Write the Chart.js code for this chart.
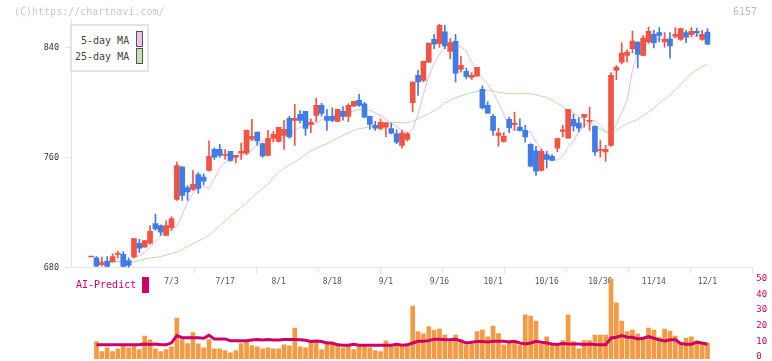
<!DOCTYPE html>
<html><head><meta charset="utf-8">
<script src="https://cdn.jsdelivr.net/npm/chart.js@4.4.1/dist/chart.umd.min.js"></script>
<style>
html,body{margin:0;padding:0;background:#fff;}
#wrap{position:relative;width:772px;height:361px;overflow:hidden;background:#fff;}
canvas{position:absolute;left:0;}
#c1{top:0;}
#c2{top:270px;}
.t{position:absolute;font-family:"DejaVu Sans Mono",monospace;white-space:nowrap;line-height:12px;}
</style></head><body>
<div id="wrap">
<canvas id="c1" width="772" height="300" style="width:772px;height:300px"></canvas>
<canvas id="c2" width="772" height="91" style="width:772px;height:91px"></canvas>
<div class="t" style="left:14px;top:6px;font-size:10px;color:#c8c8c8">(C)https://chartnavi.com/</div>
<div class="t" style="left:733px;top:6px;font-size:10px;color:#bbbbbb">6157</div>
<div style="position:absolute;left:70px;top:24px;width:75px;height:44px;border:2px solid #e4e4e4;background:#fff"></div>
<div class="t" style="left:81px;top:35px;font-size:10px;color:#444">5-day MA</div>
<div class="t" style="left:75px;top:51px;font-size:10px;color:#444">25-day MA</div>
<div style="position:absolute;left:136px;top:31px;width:5px;height:14px;border:1px solid #555;background:#f0c0ee"></div>
<div style="position:absolute;left:136px;top:48px;width:5px;height:14px;border:1px solid #555;background:#c4e4b4"></div>
<div class="t" style="left:76px;top:279px;font-size:10px;color:#cc0066">AI-Predict</div>
<div style="position:absolute;left:142px;top:277px;width:7px;height:16px;background:#cc0066"></div>
</div>
<script>
// ---- data (index 0..115, one entry per trading day) ----
const dateTickIdx  = [15, 25, 35, 45, 55, 65, 75, 85, 95, 105, 115];
const dateTickText = ["7/3","7/17","8/1","8/18","9/1","9/16","10/1","10/16","10/30","11/14","12/1"];
const priceTicks = [680, 760, 840];
const volTicks = [0, 10, 20, 30, 40, 50];

const opens = [687.6,687,682,684.6,684,689.5,689.5,685,687.6,697.5,
694.8,697.7,712,710.5,703.3,709,729.5,753,738,736.7,
747.6,745.7,750.5,765.8,765.8,761.5,764.4,760.2,763.1,763.1,
773.3,778.4,770,761.5,773.8,771.6,776,788.4,786.9,791.3,
793.5,784,790.5,797.8,789.8,789.8,786.2,793.5,789.8,797.3,
801.5,799,789.8,783.3,781,782,781,777.2,768.7,773.1,
799.8,819.6,816,829.3,845.8,842.7,851.2,837,844.4,824,
822.5,818.2,819,809.5,797.8,789.8,776,771.6,787.6,783.8,
782,779.6,769.5,764.7,750.5,762,760.7,766.8,778.9,774,
787.6,785,789.3,786.2,782.5,765.1,763.9,768.7,823.3,829.3,
834.2,839,843.9,834.2,843.9,849.5,850.7,843.9,845.8,848,
845.8,850.7,849.2,851.6,845.8,851.1];
const highs = [688.2,688,687.5,688,690,692,691.6,687,701,700.4,
699.6,710.5,718.8,711,714,717,756.6,753.5,739.6,750.5,
749,748,772,767,769.5,765.6,764.4,761.5,770.4,780,
787.6,778.4,770.5,779.6,779,782,787,789.8,798.5,794,
793.5,788,803,799.3,795,796,795,797,799,801,
805.8,800,790,786.2,788,785.2,785,780,779.6,778,
815,823.3,830,843,849.5,856.7,856,846.3,849.5,833.5,
825,821.6,825.5,812,800.5,791.3,781.3,778,789.3,793,
788,783.3,770,768,766,764.4,762,774,783.3,795,
791.3,789,791.3,796.6,783,772.4,768.7,821.6,827,843.4,
838.3,851.8,844,848.5,854.8,852.4,854.3,850.7,850.7,854.3,
854,852.4,854.3,853.8,852.4,853.6];
const lows = [687.6,680.7,681,680.5,684,687,680.5,678.5,687,691,
694.8,697,707,703.3,703,707,728.7,728.7,728.7,736,
734,740,750,758.5,760,758.5,757,756,758.5,762,
772,768.7,760,761,771,771,765.8,774,768.7,785,
776,778,786,790,779.6,786,786,787,786,797,
797,789,780.4,779.6,780,775,777,770,766.8,772,
793,805,815,829,839,840,839,831.8,814.8,822,
817,816.7,819,795,792,776,768.2,771,778,780,
779,771,753,747,750,752.2,757.5,764,774.8,774,
779,778.6,782,779.6,761.5,760.2,757.1,768,816.5,828,
829.3,835.9,825,834,843,839.5,843.9,840.2,832.2,847,
845,843.4,848,848,845,842];
const closes = [688.2,681,683.6,680.7,688,690.5,680.8,681.5,701,694,
699.6,706.2,708,705.7,710.5,715.6,754,732.4,735,740.4,
737.5,742.8,760.7,760.2,761.5,762.2,757.8,761.5,764.4,779.6,
775.3,771.9,761,773.8,776.7,781.8,780.4,774.8,788.4,786.9,
781.1,785.5,797.8,792,786.9,786.9,794.9,789.8,797.8,800.7,
797.8,789.3,784,781.3,785.5,785.2,777.7,771,777.7,777.2,
814.8,814.8,829.8,843,842.2,856,841,843.4,821.3,826.9,
818.9,819.6,825.5,795.9,792.2,779.6,777.7,775.3,781.6,785,
779.6,774.8,753.7,750,764.4,758.5,757.8,773.6,780.1,794.9,
782.8,781.3,791.3,786.9,763.9,765.8,765.8,819.6,825.5,835.9,
836.6,844.6,834.9,846.8,851.6,843.4,848.7,845.8,841,849.5,
853.6,847.5,851.6,850.4,849.5,842.2];
const ma5 = [null,684.5,684.3,684,684,684.5,684.5,684,687.3,688.7,
690.9,694.5,698.9,703.3,705.5,707.6,709.8,718.5,727.3,733.8,
738.2,738.9,737.5,744.7,752,756.4,758.5,760,761.5,762.9,
765.1,769.5,772.4,772.4,772.4,772.4,774.5,776.7,779.6,781.8,
782.5,783.6,784.7,787.6,788.7,789.8,791.3,792,792.7,793.8,
794.9,794.5,794.2,792.4,790.2,787.6,784.7,782.5,779.6,777.5,
780.4,791.3,805.8,818.9,828.4,834.9,840.7,843.6,842.9,840,
837.1,829.1,822.9,817.5,813.1,807.3,800,791.3,781.8,779.6,
779.6,779.6,778.2,771.6,765.8,761.5,759.3,757.8,760.7,767.3,
771.6,778.9,783.3,785.5,786.9,783.3,778.9,776.7,784,792.7,
801.5,823.3,835.6,840.2,842.5,844.7,845.8,846,846.3,846.9,
847.5,846.9,847.6,848.4,849.1,849.5];
const ma25 = [null,684.2,684.2,684.2,684.2,684.2,684.2,684,684,685.1,
686.2,686.9,687.3,688,689.1,690.2,691.3,693.1,695.3,697.2,
699.3,701.1,703.3,706.9,710.5,713.8,717.1,720.7,723.6,727.3,
730.9,734.2,737.5,740.4,745.5,749.1,752,754.5,756.7,759.3,
762.2,764.7,766.5,768.4,769.9,772,774.2,776,777.8,779.6,
780.9,781.5,782.2,782.8,784.4,785.5,785.5,785.5,785.2,785.2,
786.2,788.1,789.8,792,793.8,796.4,799.6,801.5,803.3,804.7,
805.8,807.1,808,808.6,808.7,808.4,807.3,806.9,806.3,806.3,
806.3,806.3,806.3,805.5,804.4,803.6,801.5,799.3,797.1,794.2,
792.4,789.5,787.6,785.5,783.3,780.7,778.5,777.8,779.6,782.5,
784.4,786.2,787.6,790.5,792.9,796,799.3,802.5,805.1,809.5,
813.1,817.5,821.1,823.6,826.2,827.6];
const volume = [null,9.8,3.4,5.7,3.4,5.1,6.8,5.7,6.8,4.7,
13.4,10.9,5.1,3.4,4.7,6.4,24.9,11.1,8.5,15.5,
8.3,5.7,11.1,5.1,5.1,4,2.6,4,8.5,9.6,
7.2,6.4,5.1,5.7,5.1,5.1,7.7,7,18.5,6.4,
5.7,8.9,10,4.7,8.1,8.1,7.7,5.7,6.8,4.7,
7,6.6,5.7,4,3.4,10.2,7,8.1,6.6,7.7,
32.6,16.2,14.7,19.4,17.2,17.9,14,9.8,14,10.9,
7.7,8.3,16.2,17.2,12.8,19.8,14.9,7.7,10.4,9.8,
7.4,27,26.2,23,8.1,12.8,7.9,6.8,10.4,27,
9.8,5.1,10.4,10.4,14,14,14,50,34.7,23,
16.2,17.2,14.7,11.5,18.5,17.2,12.6,17.9,16.6,13.4,
8.3,12.1,12.8,10.2,8.3,8.9];
const aiPredict = [null,7.7,7.7,7.7,7.7,7.7,7.7,7.7,7.7,7.7,
8.3,7.9,8.3,7.7,7.7,9,13.6,12.3,12.3,12.3,
12.3,11.9,13.8,11.5,11.5,11.5,10.4,10.4,10.4,10.4,
10.8,11.2,10.8,11.2,10.8,10.8,11.2,11.2,11.2,11,
10.6,9.8,10.2,9.8,8.9,8.9,7.7,7.4,7.4,8.1,
7.4,7.4,7.4,7.4,7.4,7.4,7.4,8.1,7.4,7.7,
8.9,10,10,10.4,11.3,11.3,10.9,10.9,11.3,10.2,
8.9,9.4,9.8,9.8,9.6,10,10,10,9.6,10,
8.9,8.3,8.9,10,9.4,8.9,8.3,7.9,8.5,8.3,
8.3,8.3,7.9,8.3,7.9,7.7,7.7,12.1,12.6,13.6,
12.6,12.6,11.5,11.9,13,11.9,10.9,10.2,10.9,10.9,
8.5,8.1,8.1,9.4,8.9,8.1];

// ---- styling / layout ----
const UP = '#f25444', DOWN = '#407ce8';
const X_MIN = -3.75, X_MAX = 123.36;
const gridTickStart = 19.25, gridTickStep = 11.567;
const mono = "'DejaVu Sans Mono', monospace";
const candleColors = opens.map((o, i) => closes[i] >= o ? UP : DOWN);
const pts = arr => arr.map((v, i) => ({x: i, y: v}));
const noPad = s => { s.paddingTop = 0; s.paddingBottom = 0; };

new Chart(document.getElementById('c1'), {
  type: 'bar',
  data: {datasets: [
    {type: 'line', label: '5-day MA', data: pts(ma5), borderColor: '#e8b6ec', borderWidth: 1, pointRadius: 0, tension: 0, order: 3},
    {type: 'line', label: '25-day MA', data: pts(ma25), borderColor: '#b8dda8', borderWidth: 1, pointRadius: 0, tension: 0, order: 3},
    {label: 'wick', data: highs.map((h, i) => ({x: i, y: [lows[i], h]})), backgroundColor: candleColors, barThickness: 1, grouped: false, order: 2},
    {label: 'body', data: opens.map((o, i) => ({x: i, y: [o, closes[i]]})), backgroundColor: candleColors, barThickness: 5, grouped: false, minBarLength: 1, order: 1}
  ]},
  options: {
    responsive: false, animation: false,
    layout: {padding: {left: 0, right: 772 - 752.3, top: 19.8, bottom: 6.5}},
    plugins: {legend: {display: false}, tooltip: {enabled: false}},
    scales: {
      x: {type: 'linear', min: X_MIN, max: X_MAX, offset: false,
          afterBuildTicks: ax => { ax.ticks = Array.from({length: 10}, (_, k) => ({value: gridTickStart + gridTickStep * k})); },
          ticks: {display: false},
          grid: {drawOnChartArea: false, offset: false, tickLength: 6, color: '#e2e2e2'},
          border: {color: '#e2e2e2'},
          afterFit: s => { s.height = 6; }},
      x2: {type: 'linear', position: 'bottom', min: X_MIN, max: X_MAX, offset: false,
          afterBuildTicks: ax => { ax.ticks = dateTickIdx.map(v => ({value: v})); },
          ticks: {callback: v => dateTickText[dateTickIdx.indexOf(v)], font: {family: mono, size: 8}, color: '#555', padding: 4, maxRotation: 0, autoSkip: false},
          grid: {display: false, drawTicks: false, offset: false},
          border: {display: false},
          afterFit: s => { s.height = 20; }},
      y: {min: 680, max: 860,
          afterBuildTicks: ax => { ax.ticks = priceTicks.map(v => ({value: v})); },
          ticks: {font: {family: mono, size: 8.5}, color: '#333', padding: 6},
          grid: {drawOnChartArea: false, tickLength: 6, color: '#e2e2e2'},
          border: {color: '#e2e2e2'},
          afterFit: s => { s.width = 71; noPad(s); }}
    }
  }
});

new Chart(document.getElementById('c2'), {
  type: 'bar',
  data: {datasets: [
    {type: 'line', label: 'AI-Predict', data: pts(aiPredict), borderColor: '#cc0066', borderWidth: 3, pointRadius: 0, tension: 0, order: 1},
    {label: 'volume', data: pts(volume), backgroundColor: '#f39a45', barThickness: 4, base: -1.4, grouped: false, order: 2}
  ]},
  options: {
    responsive: false, animation: false,
    layout: {padding: {left: 71, right: 0, top: 9, bottom: 2}},
    plugins: {legend: {display: false}, tooltip: {enabled: false}},
    scales: {
      x: {type: 'linear', min: X_MIN, max: X_MAX, display: false, offset: false, grid: {offset: false}},
      y: {position: 'right', min: -1.4, max: 50,
          afterBuildTicks: ax => { ax.ticks = volTicks.map(v => ({value: v})); },
          ticks: {font: {family: mono, size: 9}, color: '#cc0066', padding: 4},
          grid: {display: false, drawTicks: false},
          border: {display: false},
          afterFit: s => { s.width = 772 - 752.3; noPad(s); }}
    }
  }
});
</script>
</body></html>
